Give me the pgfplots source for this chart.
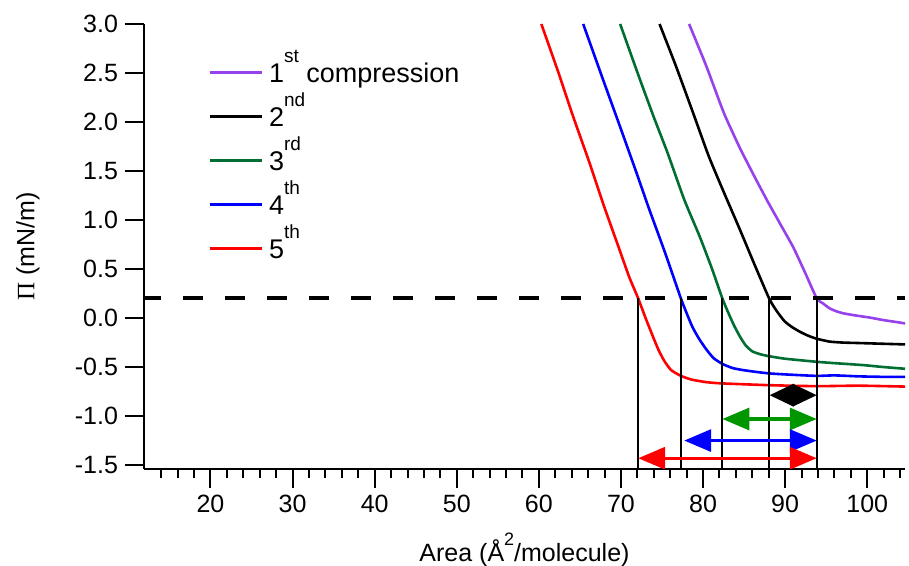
\documentclass[border=0pt]{standalone}
\usepackage{fontspec}
\setmainfont{Liberation Sans}
\newfontfamily\greekserif{Liberation Serif}
\usepackage{pgfplots}
\pgfplotsset{compat=1.18}
\usetikzlibrary{arrows.meta}

\definecolor{cPurple}{RGB}{150,65,235}
\definecolor{cDkGreen}{RGB}{0,110,50}
\definecolor{cGreen}{RGB}{0,150,0}
\definecolor{cBlue}{RGB}{0,0,255}
\definecolor{cRed}{RGB}{255,0,0}

\newcommand\lab{\fontsize{12.5}{15}\selectfont}
\newcommand\leg{\fontsize{13.5}{16}\selectfont}
% raised ordinal suffix for the legend
\newcommand\ord[1]{\raisebox{10pt}{\fontsize{9.5}{10}\selectfont #1}}

\begin{document}
\begin{tikzpicture}
\useasboundingbox (-72pt,-48.5pt) rectangle (382.5pt,234.5pt);
\begin{axis}[
  at={(0pt,0pt)}, anchor=south west,
  scale only axis, width=380.5pt, height=222.5pt,
  xmin=11.9, xmax=104.6, ymin=-1.54, ymax=3.0,
  axis x line*=bottom, axis y line*=left,
  axis line style={line width=1pt},
  xtick={20,30,...,100}, minor xtick={14,16,...,104},
  ytick={-1.5,-1,...,3},
  tick align=outside,
  major tick length=9.5pt, minor tick length=4.5pt,
  every tick/.style={black, line width=1pt},
  /pgf/number format/assume math mode=true,
  tick label style={font=\lab},
  yticklabel style={/pgf/number format/.cd, fixed, fixed zerofill, precision=1},
  label style={font=\lab},
  xlabel={Area (Å\raisebox{8pt}{\fontsize{9}{9}\selectfont 2}/molecule)},
  ylabel={{\greekserif Π} (mN/m)},
  xlabel style={at={([yshift=-40.5pt]axis description cs:0.5,0)}, anchor=center},
  ylabel style={at={([xshift=-58pt]axis description cs:0,0.5)}, anchor=center},
  legend style={draw=none, fill=none, font=\leg, at={(axis cs:19.7,2.686)}, anchor=north west,
    inner sep=0pt, outer sep=0pt, row sep=4pt,
    nodes={inner sep=0pt, outer sep=0pt, text height=14pt, text depth=4pt},
    /tikz/every odd column/.append style={column sep=3pt}},
  legend cell align=left,
  legend image code/.code={\draw[#1, line width=1.5pt] (0pt,0pt) -- (26pt,0pt);},
  every axis plot/.append style={line width=1.3pt},
]
% surface pressure isotherms, successive compressions
\addplot[cPurple, smooth, tension=0.35] coordinates {
  (78.3,3.0) (80.4,2.57) (82.5,2.10) (84.4,1.75) (86.1,1.47) (87.8,1.20)
  (89.4,0.96) (91.0,0.72) (92.5,0.45) (93.85,0.2) (94.6,0.15)
  (95.4,0.10) (96.2,0.07) (97.0,0.05) (98.3,0.03) (100.3,0.005) (101.9,-0.02)
  (103.5,-0.04) (105,-0.06)};
\addlegendentry{1\ord{st} compression}
\addplot[black, smooth, tension=0.35] coordinates {
  (74.7,3.0) (76.7,2.57) (78.8,2.09) (80.7,1.65) (82.6,1.27) (84.5,0.90)
  (86.4,0.52) (88.05,0.2) (88.9,0.08) (89.9,-0.03) (90.8,-0.09) (91.8,-0.14)
  (92.8,-0.18) (93.8,-0.21) (95.4,-0.24) (97,-0.25) (99,-0.255) (101,-0.26)
  (103,-0.265) (105,-0.27)};
\addlegendentry{2\ord{nd}}
\addplot[cDkGreen, smooth, tension=0.35] coordinates {
  (69.9,3.0) (72.2,2.46) (74.0,2.05) (75.7,1.68) (77.7,1.21) (79.6,0.83)
  (81.1,0.50) (82.35,0.2) (83.2,0.03) (83.8,-0.08) (84.5,-0.19) (85.2,-0.28)
  (86.0,-0.34) (87.0,-0.37) (88.1,-0.39) (90,-0.415) (93.8,-0.446) (96,-0.46)
  (99.5,-0.48) (102,-0.50) (105,-0.52)};
\addlegendentry{3\ord{rd}}
\addplot[cBlue, smooth, tension=0.35] coordinates {
  (65.4,3.0) (67.7,2.46) (69.9,1.95) (71.9,1.48) (73.4,1.12) (75.4,0.66)
  (77.3,0.2) (78.0,0.05) (78.7,-0.09) (79.5,-0.21) (80.4,-0.32) (81.3,-0.41)
  (82.4,-0.47) (83.6,-0.51) (84.8,-0.53) (86.5,-0.55) (88.1,-0.565) (90,-0.575)
  (93.8,-0.59) (96,-0.585) (99,-0.595) (102,-0.60) (105,-0.60)};
\addlegendentry{4\ord{th}}
\addplot[cRed, smooth, tension=0.35] coordinates {
  (60.3,3.0) (62.4,2.5) (64.2,2.05) (66.1,1.60) (67.9,1.15) (69.6,0.75)
  (71.0,0.42) (72.1,0.2) (73.0,0.0) (73.9,-0.19) (74.6,-0.33) (75.3,-0.44)
  (76.1,-0.53) (77.3,-0.59) (78.7,-0.63) (80.5,-0.655) (82.4,-0.667)
  (88.1,-0.685) (93.8,-0.695) (99,-0.69) (105,-0.70)};
\addlegendentry{5\ord{th}}

% reference pressure level
\addplot[forget plot, black, line width=2pt, dash pattern=on 10pt off 11pt, dash phase=1.5pt]
  coordinates {(11.9,0.2) (104.6,0.2)};

% molecular areas at the reference pressure
\addplot[forget plot, black, line width=0.85pt] coordinates {(72.1,0.2) (72.1,-1.54)};
\addplot[forget plot, black, line width=0.85pt] coordinates {(77.3,0.2) (77.3,-1.54)};
\addplot[forget plot, black, line width=0.85pt] coordinates {(82.35,0.2) (82.35,-1.54)};
\addplot[forget plot, black, line width=0.85pt] coordinates {(88.05,0.2) (88.05,-1.54)};
\addplot[forget plot, black, line width=0.85pt] coordinates {(93.85,0.2) (93.85,-1.54)};

% area shifts relative to the first compression
\addplot[forget plot, black, line width=1.6pt,
  {Triangle[length=12pt 0 0,width=11pt 0 0]}-{Triangle[length=12pt 0 0,width=11pt 0 0]}]
  coordinates {(88.1,-0.787) (93.85,-0.787)};
\addplot[forget plot, cGreen, line width=1.6pt,
  {Triangle[length=13.5pt 0 0,width=11pt 0 0]}-{Triangle[length=13.5pt 0 0,width=11pt 0 0]}]
  coordinates {(82.35,-1.03) (93.85,-1.03)};
\addplot[forget plot, cBlue, line width=1.6pt,
  {Triangle[length=13.5pt 0 0,width=11pt 0 0]}-{Triangle[length=13.5pt 0 0,width=11pt 0 0]}]
  coordinates {(77.7,-1.25) (93.85,-1.25)};
\addplot[forget plot, cRed, line width=1.6pt,
  {Triangle[length=13.5pt 0 0,width=11pt 0 0]}-{Triangle[length=13.5pt 0 0,width=11pt 0 0]}]
  coordinates {(72.1,-1.43) (93.85,-1.43)};
\end{axis}
\end{tikzpicture}
\end{document}
